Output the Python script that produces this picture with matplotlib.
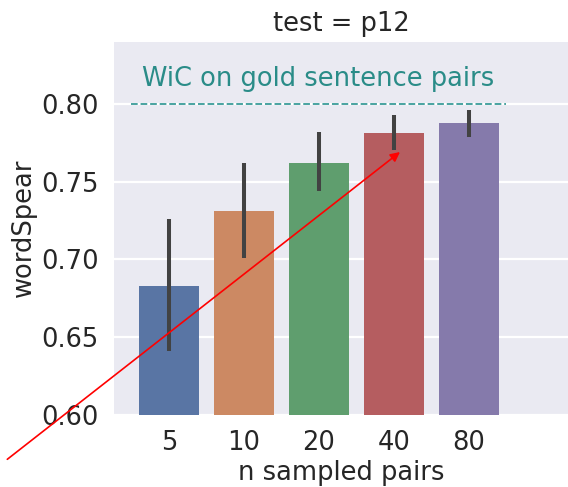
import colorsys

import matplotlib
matplotlib.use("Agg")
import matplotlib.pyplot as plt
import matplotlib.colors as mcolors
import numpy as np

# mean wordSpear per number of sampled pairs, with the CI bounds
n_pairs = ["5", "10", "20", "40", "80"]
mean_spear = [0.683, 0.731, 0.762, 0.781, 0.788]
ci_low = [0.641, 0.701, 0.744, 0.770, 0.779]
ci_high = [0.726, 0.762, 0.782, 0.793, 0.796]

gold_score = 0.80
gold_label = "WiC on gold sentence pairs"

# seaborn "deep" palette
deep = ["#4C72B0", "#DD8452", "#55A868", "#C44E52", "#8172B3"]


def desaturate(color: str, prop: float) -> tuple:
    """Scale down the saturation like seaborn barplot does."""
    r, g, b = mcolors.to_rgb(color)
    h, l, s = colorsys.rgb_to_hls(r, g, b)
    return colorsys.hls_to_rgb(h, l, s * prop)


def main() -> None:
    plt.rcParams["font.family"] = ["DejaVu Sans"]
    plt.rcParams["text.color"] = "#262626"
    plt.rcParams["axes.labelcolor"] = "#262626"
    plt.rcParams["xtick.color"] = "#262626"
    plt.rcParams["ytick.color"] = "#262626"
    fs = 18.5

    fig = plt.figure(figsize=(5.68, 4.87), dpi=100)
    ax = fig.add_axes([114 / 568, 1 - 414.7 / 487,
                       (568 - 114) / 568, (414.7 - 41.7) / 487])
    ax.set_facecolor("#EAEAF2")
    for sp in ax.spines.values():
        sp.set_visible(False)

    x = np.arange(len(n_pairs))
    colors = [desaturate(c, 0.75) for c in deep]
    ax.bar(x, mean_spear, width=0.8, color=colors, zorder=2)
    ax.vlines(x, ci_low, ci_high, color="#424242", lw=2.9, zorder=3)

    # reference score line with its caption
    ax.hlines(gold_score, -0.5, len(n_pairs) - 0.5, colors="#3a9c98",
              linestyles="--", lw=1.3, zorder=3)
    ax.text(-0.36, gold_score + 0.0075, gold_label, color="#2a8c88",
            fontsize=fs, ha="left", va="bottom")

    ax.set_ylim(0.6, 0.84)
    ax.set_xlim(-0.733, 5.32)
    ax.set_yticks([0.60, 0.65, 0.70, 0.75, 0.80])
    ax.set_yticklabels(["0.60", "0.65", "0.70", "0.75", "0.80"])
    ax.set_xticks(x)
    ax.set_xticklabels(n_pairs)
    ax.tick_params(axis="both", length=0, labelsize=fs)
    ax.tick_params(axis="y", pad=11)
    ax.tick_params(axis="x", pad=11)
    ax.yaxis.grid(True, color="white", lw=1.6, zorder=0)
    ax.xaxis.grid(False)
    ax.set_axisbelow(True)

    ax.set_xlabel("n sampled pairs", fontsize=fs, labelpad=3)
    ax.set_ylabel("wordSpear", fontsize=fs, labelpad=3)
    ax.set_title("test = p12", fontsize=fs, pad=8)

    # red pointer to the 40-pair bar
    ax.annotate("", xy=(3.08, 0.769), xycoords="data",
                xytext=(7.3 / 568, 1 - 459.3 / 487),
                textcoords="figure fraction",
                arrowprops=dict(arrowstyle="-|>", color="red", lw=1.2,
                                mutation_scale=14, shrinkA=0, shrinkB=0),
                annotation_clip=False, zorder=5)

    fig.savefig("out.png", dpi=100)


if __name__ == "__main__":
    main()
